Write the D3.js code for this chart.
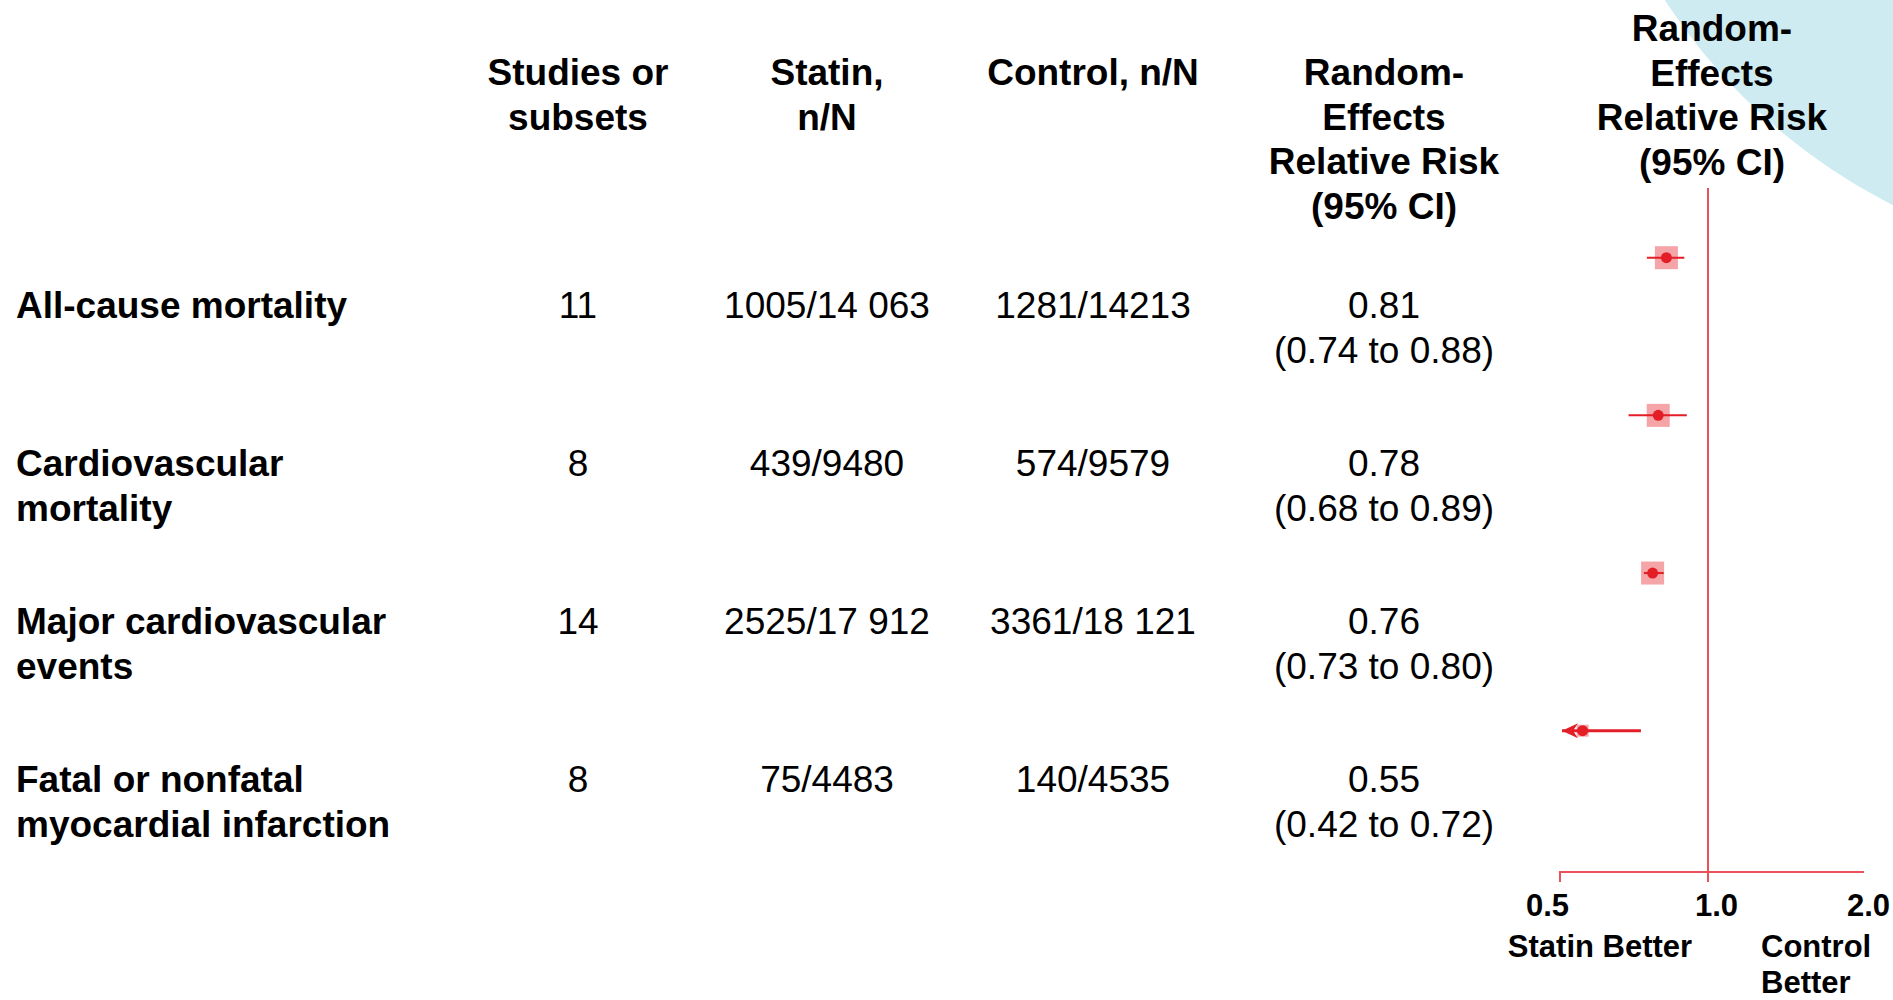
<!DOCTYPE html>
<html>
<head>
<meta charset="utf-8">
<script src="https://cdn.jsdelivr.net/npm/d3@7"></script>
<style>
  body { margin: 0; background: #fff; }
  text { font-family: "Liberation Sans", Arial, sans-serif; fill: #000; }
</style>
</head>
<body>
<div id="chart"></div>
<script>
//-- Data --//
var outcomes = ["All-cause mortality", "Cardiovascular mortality", "Major cardiovascular events", "Fatal or nonfatal myocardial infarction"];
var outcomeLines = [["All-cause mortality"], ["Cardiovascular", "mortality"], ["Major cardiovascular", "events"], ["Fatal or nonfatal", "myocardial infarction"]];
var studies = [11, 8, 14, 8];
var statinN = ["1005/14 063", "439/9480", "2525/17 912", "75/4483"];
var controlN = ["1281/14213", "574/9579", "3361/18 121", "140/4535"];
var rr = [0.81, 0.78, 0.76, 0.55];
var rrLow = [0.74, 0.68, 0.73, 0.42];
var rrHigh = [0.88, 0.89, 0.80, 0.72];
var weights = [1, 1, 1, 0.27];   // relative box size as drawn
var axisTicks = [0.5, 1.0, 2.0];

var headers = [
  {x: 578, lines: ["Studies or", "subsets"]},
  {x: 827, lines: ["Statin,", "n/N"]},
  {x: 1093, lines: ["Control, n/N"]},
  {x: 1384, lines: ["Random-", "Effects", "Relative Risk", "(95% CI)"]}
];

var width = 1893, height = 1000;
var red = "#e31e26", lineRed = "#e9525b", boxPink = "#f5a5a8";

var svg = d3.select("#chart").append("svg")
  .attr("width", width)
  .attr("height", height);

//-- background decoration --//
svg.append("circle")
  .attr("cx", 2157).attr("cy", -318).attr("r", 586)
  .style("fill", "#cdebf1");

//-- Scales --//
var xScale = d3.scaleLog().domain([0.5, 2]).range([1562, 1862]);
var rowY = d3.scalePoint().domain(outcomes).range([318, 792]);
var plotY = d3.scalePoint().domain(outcomes).range([257.7, 730.7]);
var boxScale = d3.scaleSqrt().domain([0, 1]).range([0, 23]);

var rows = outcomes.map(function(o, i) {
  return {name: o, lines: outcomeLines[i], studies: studies[i], statin: statinN[i],
          control: controlN[i], rr: rr[i], lo: rrLow[i], hi: rrHigh[i], w: weights[i]};
});

//-- Column headers --//
headers.forEach(function(h) {
  var t = svg.append("text")
    .attr("text-anchor", "middle")
    .style("font-weight", "bold")
    .style("font-size", "37px");
  h.lines.forEach(function(l, j) {
    t.append("tspan").attr("x", h.x).attr("y", 85 + j * 44.5).text(l);
  });
});

// header over the plot
var ph = svg.append("text")
  .attr("text-anchor", "middle")
  .style("font-weight", "bold")
  .style("font-size", "37px");
["Random-", "Effects", "Relative Risk", "(95% CI)"].forEach(function(l, j) {
  ph.append("tspan").attr("x", xScale(1)).attr("y", 41 + j * 44.5).text(l);
});

//-- Table rows --//
var rowG = svg.append("g").selectAll("g")
  .data(rows)
  .enter().append("g");

rowG.append("text")
  .style("font-weight", "bold")
  .style("font-size", "37px")
  .each(function(d) {
    var t = d3.select(this);
    d.lines.forEach(function(l, j) {
      t.append("tspan").attr("x", 16).attr("y", rowY(d.name) + j * 45).text(l);
    });
  });

var cols = [
  {x: 578, f: function(d) { return d.studies; }},
  {x: 827, f: function(d) { return d.statin; }},
  {x: 1093, f: function(d) { return d.control; }}
];
cols.forEach(function(c) {
  rowG.append("text")
    .attr("x", c.x)
    .attr("y", function(d) { return rowY(d.name); })
    .attr("text-anchor", "middle")
    .style("font-size", "37px")
    .text(c.f);
});

var fmt = d3.format(".2f");
rowG.append("text")
  .attr("text-anchor", "middle")
  .style("font-size", "37px")
  .each(function(d) {
    var t = d3.select(this);
    t.append("tspan").attr("x", 1384).attr("y", rowY(d.name)).text(fmt(d.rr));
    t.append("tspan").attr("x", 1384).attr("y", rowY(d.name) + 45)
      .text("(" + fmt(d.lo) + " to " + fmt(d.hi) + ")");
  });

//-- Forest plot --//
var plot = svg.append("g");
var axisY = 872;

// reference line at 1.0 (drawn a touch left of the value, as in the original)
plot.append("line")
  .attr("x1", xScale(1) - 4).attr("x2", xScale(1) - 4)
  .attr("y1", 188).attr("y2", axisY + 10)
  .style("stroke", lineRed).style("stroke-width", 2);

// axis line + tick at 0.5
plot.append("path")
  .attr("d", "M" + (xScale(0.5) - 2) + "," + (axisY + 10) + "V" + axisY + "H" + (xScale(2) + 2))
  .style("fill", "none").style("stroke", lineRed).style("stroke-width", 2);

var labelNudge = {"0.5": -15, "1": 4, "2": 6};
var xAxis = d3.axisBottom(xScale)
  .tickValues(axisTicks)
  .tickFormat(d3.format(".1f"))
  .tickSize(0)
  .tickPadding(0);
var ax = plot.append("g")
  .attr("transform", "translate(0," + axisY + ")")
  .call(xAxis);
ax.select(".domain").remove();
ax.selectAll("text")
  .attr("y", 44)
  .attr("dy", null)
  .attr("dx", function(d) { return labelNudge[String(d)]; })
  .style("font-family", '"Liberation Sans", Arial, sans-serif')
  .style("font-weight", "bold")
  .style("font-size", "31px")
  .style("fill", "#000");

plot.append("text")
  .attr("x", 1600).attr("y", 957)
  .attr("text-anchor", "middle")
  .style("font-weight", "bold").style("font-size", "31px")
  .text("Statin Better");
var cb = plot.append("text")
  .style("font-weight", "bold").style("font-size", "31px");
cb.append("tspan").attr("x", 1761).attr("y", 957).text("Control");
cb.append("tspan").attr("x", 1761).attr("y", 993).text("Better");

// weight boxes
plot.selectAll(".box")
  .data(rows)
  .enter().append("rect")
  .attr("class", "box")
  .attr("x", function(d) { return xScale(d.rr) - boxScale(d.w) / 2; })
  .attr("y", function(d) { return plotY(d.name) - boxScale(d.w) / 2; })
  .attr("width", function(d) { return boxScale(d.w); })
  .attr("height", function(d) { return boxScale(d.w); })
  .style("fill", boxPink);

// CI lines (clipped to axis with an arrow)
plot.selectAll(".ci")
  .data(rows)
  .enter().append("line")
  .attr("class", "ci")
  .attr("x1", function(d) { return xScale(Math.max(d.lo, 0.5)); })
  .attr("x2", function(d) { return xScale(d.hi); })
  .attr("y1", function(d) { return plotY(d.name); })
  .attr("y2", function(d) { return plotY(d.name); })
  .style("stroke", red)
  .style("stroke-width", function(d) { return d.lo < 0.5 ? 3 : 2; });

plot.selectAll(".arrow")
  .data(rows.filter(function(d) { return d.lo < 0.5; }))
  .enter().append("path")
  .attr("class", "arrow")
  .attr("d", function(d) {
    var x = xScale(0.5), y = plotY(d.name);
    return "M" + x + "," + y + "L" + (x + 16) + "," + (y - 7.5) +
           "L" + (x + 11) + "," + y + "L" + (x + 16) + "," + (y + 7.5) + "Z";
  })
  .style("fill", red);

plot.selectAll(".dot")
  .data(rows)
  .enter().append("circle")
  .attr("class", "dot")
  .attr("cx", function(d) { return xScale(d.rr); })
  .attr("cy", function(d) { return plotY(d.name); })
  .attr("r", 5.5)
  .style("fill", red);
</script>
</body>
</html>
